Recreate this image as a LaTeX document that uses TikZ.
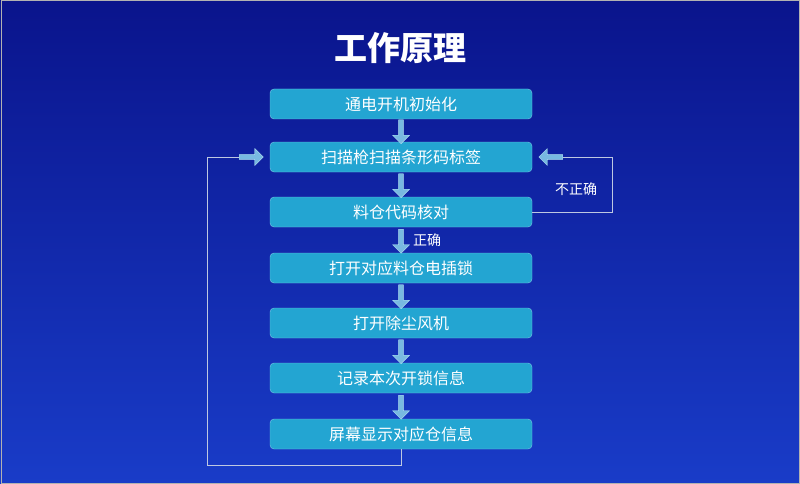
\documentclass[tikz,border=0pt]{standalone}
\usepackage{fontspec}
\newfontfamily\cjk{Noto Sans CJK SC}
\usetikzlibrary{shapes.arrows,positioning,calc}
\definecolor{bgtop}{RGB}{10,20,140}
\definecolor{bgbot}{RGB}{25,60,200}
\definecolor{boxfill}{RGB}{35,165,210}
\definecolor{boxline}{RGB}{120,200,230}
\definecolor{arrfill}{RGB}{120,185,225}
\definecolor{loopline}{RGB}{190,200,225}
\begin{document}
\begin{tikzpicture}[x=1pt,y=-1pt,
    stepbox/.style={rectangle,rounded corners=4pt,draw=boxline,fill=boxfill,minimum width=262pt,minimum height=30pt,text=white,font=\cjk\fontsize{16}{16}\selectfont},
    blockarr/.style={single arrow,draw=boxline!60!white,fill=arrfill,minimum height=24pt,minimum width=17pt,single arrow head extend=3pt,single arrow head indent=0pt,inner sep=1pt},
    loop/.style={draw=loopline,line width=1pt},
    lbl/.style={text=white,font=\cjk\fontsize{14}{14}\selectfont}
    ]
    \shade[top color=bgtop,bottom color=bgbot] (0,0) rectangle (800,484);
    \draw[gray!60,line width=1pt] (1,1) rectangle (799,483);
    \node[text=white,font=\cjk\bfseries\fontsize{33}{33}\selectfont] (title) at (400,48) {工作原理};
    \node[stepbox] (s1) at (401,104) {通电开机初始化};
    \node[stepbox] (s2) at (401,157) {扫描枪扫描条形码标签};
    \node[stepbox] (s3) at (401,212) {料仓代码核对};
    \node[stepbox] (s4) at (401,268) {打开对应料仓电插锁};
    \node[stepbox] (s5) at (401,323) {打开除尘风机};
    \node[stepbox] (s6) at (401,378) {记录本次开锁信息};
    \node[stepbox] (s7) at (401,434) {屏幕显示对应仓信息};
    % block arrows between steps
    \foreach \a/\b in {s1/s2,s2/s3,s3/s4,s4/s5,s5/s6,s6/s7}
        \node[blockarr,shape border rotate=270] (a\a) at ($(\a.south)!0.5!(\b.north)$) {};
    \node[lbl,right=6pt of as3] (ok) {正确};
    % feedback loops
    \node[blockarr] (inL) at (250,157) {};
    \node[blockarr,shape border rotate=180] (inR) at (552,157) {};
    \coordinate (l1) at (401,465);
    \coordinate (l2) at (207,465);
    \coordinate (l3) at (207,157);
    \coordinate (r1) at (612,212);
    \coordinate (r2) at (612,157);
    \draw[loop] (s7.south) -- (l1) -- (l2) -- (l3) -- (inL.west);
    \draw[loop] (s3.east) -- (r1) -- (r2) -- (inR.east);
    \node[lbl] (bad) at (576,189) {不正确};
\end{tikzpicture}
\end{document}
